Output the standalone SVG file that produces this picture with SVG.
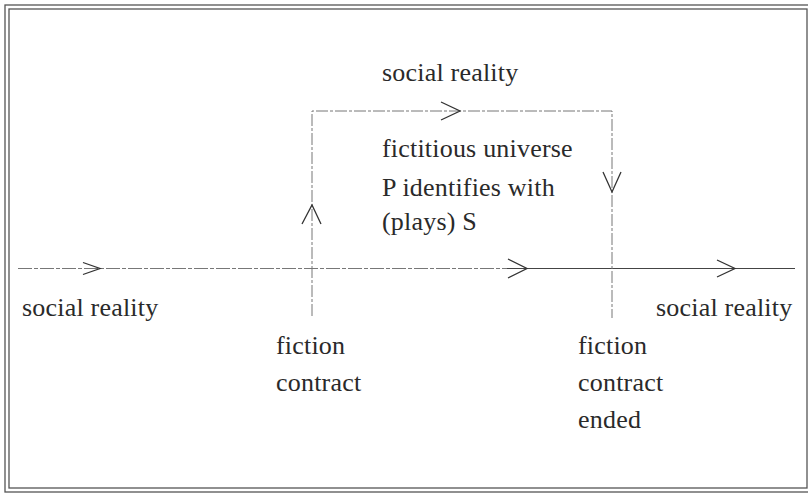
<svg xmlns="http://www.w3.org/2000/svg" width="808" height="494" viewBox="0 0 808 494">
<style>
  .frame { fill: none; stroke: #555; stroke-width: 1.3; }
  .line { fill: none; stroke: #777; stroke-width: 1; }
  .solid { fill: none; stroke: #444; stroke-width: 1.1; }
  .chev { fill: none; stroke: #333; stroke-width: 1.3; stroke-linejoin: miter; }
  text { font-family: "Liberation Serif", "Times New Roman", serif; font-size: 26px; fill: #2a2a2a; letter-spacing: 0.2px; }
</style>
<rect width="808" height="494" fill="#fff"/>
<g id="frame">
  <rect class="frame" x="5" y="5" width="812" height="487"/>
  <rect class="frame" x="9" y="9" width="798" height="479"/>
</g>
<g id="connectors">
  <path class="line" d="M18 268.5 H507" stroke-dasharray="14 2 4 2"/>
  <path class="solid" d="M507 268.5 H795"/>
  <path class="line" d="M312 316 V111 H612 V318" stroke-dasharray="12 2 3 2"/>
  <path class="chev" d="M83 262.5 L100 268.5 L83 274.5"/>
  <path class="chev" d="M508 259 L527 268.5 L508 278"/>
  <path class="chev" d="M717 260 L735 268.5 L717 277"/>
  <path class="chev" d="M441 102 L460 111 L441 120"/>
  <path class="chev" d="M302 224 L312 205 L321 224"/>
  <path class="chev" d="M603 172 L612 192 L621 172"/>
</g>
<g id="top-label"><text x="382" y="81">social reality</text></g>
<g id="fictitious-universe">
  <text x="382" y="157">fictitious universe</text>
  <text x="382" y="196">P identifies with</text>
  <text x="382" y="230">(plays) S</text>
</g>
<g id="left-reality"><text x="22" y="316">social reality</text></g>
<g id="right-reality"><text x="656" y="316">social reality</text></g>
<g id="fiction-contract">
  <text x="276" y="354">fiction</text>
  <text x="276" y="391">contract</text>
</g>
<g id="fiction-contract-ended">
  <text x="578" y="354">fiction</text>
  <text x="578" y="391">contract</text>
  <text x="578" y="428">ended</text>
</g>
</svg>
